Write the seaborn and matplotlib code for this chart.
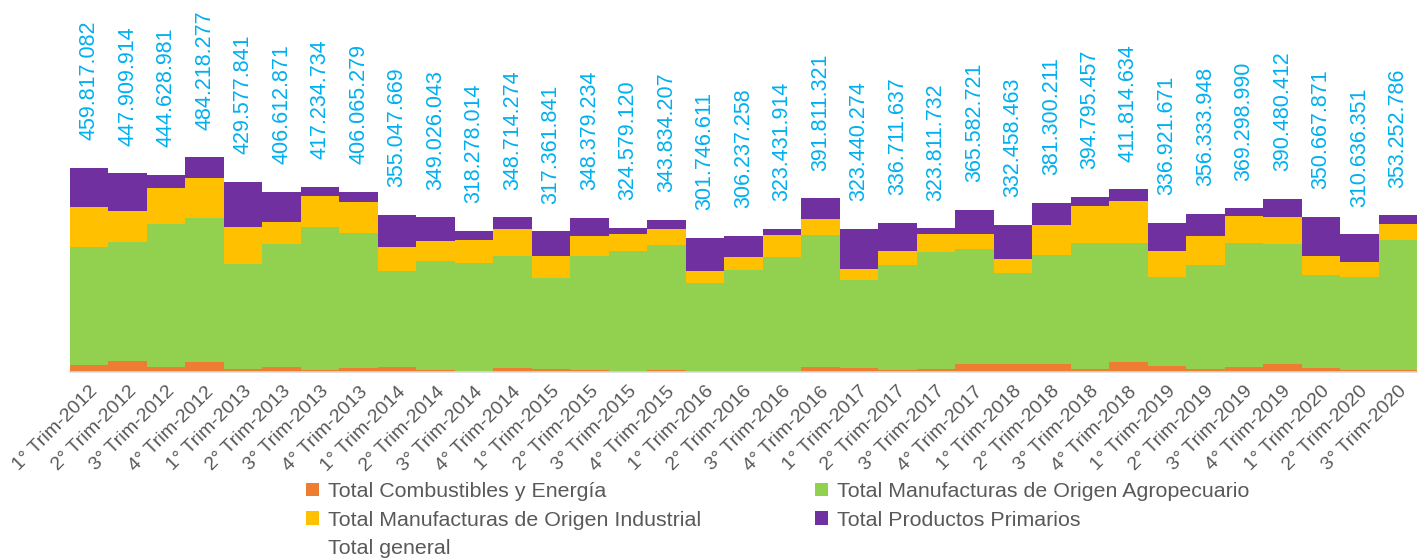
import numpy as np
import pandas as pd
import matplotlib
matplotlib.use("Agg")
import matplotlib.pyplot as plt
from matplotlib.patches import Patch
import seaborn as sns

# ---------------- data ----------------
categories = [
    "1° Trim-2012", "2° Trim-2012", "3° Trim-2012", "4° Trim-2012",
    "1° Trim-2013", "2° Trim-2013", "3° Trim-2013", "4° Trim-2013",
    "1° Trim-2014", "2° Trim-2014", "3° Trim-2014", "4° Trim-2014",
    "1° Trim-2015", "2° Trim-2015", "3° Trim-2015", "4° Trim-2015",
    "1° Trim-2016", "2° Trim-2016", "3° Trim-2016", "4° Trim-2016",
    "1° Trim-2017", "2° Trim-2017", "3° Trim-2017", "4° Trim-2017",
    "1° Trim-2018", "2° Trim-2018", "3° Trim-2018", "4° Trim-2018",
    "1° Trim-2019", "2° Trim-2019", "3° Trim-2019", "4° Trim-2019",
    "1° Trim-2020", "2° Trim-2020", "3° Trim-2020",
]

total_general = [
    459817082, 447909914, 444628981, 484218277,
    429577841, 406612871, 417234734, 406065279,
    355047669, 349026043, 318278014, 348714274,
    317361841, 348379234, 324579120, 343834207,
    301746611, 306237258, 323431914, 391811321,
    323440274, 336711637, 323811732, 365582721,
    332458463, 381300211, 394795457, 411814634,
    336921671, 356333948, 369298990, 390480412,
    350667871, 310636351, 353252786,
]

# segment values (millions)
combustibles = [15.8, 25.5, 12.0, 21.9, 6.8, 11.3, 4.5, 9.7,
                12.0, 4.5, 1.1, 8.3, 6.1, 4.5, 1.6, 3.8,
                2.9, 1.6, 1.6, 12.0, 9.7, 3.8, 6.1, 18.7,
                18.7, 18.7, 7.4, 23.2, 14.2, 6.8, 12.0, 18.7,
                9.7, 5.2, 5.2]
moa = [266.9, 268.5, 321.9, 324.9, 236.2, 278.2, 323.3, 303.2,
       215.2, 246.6, 244.1, 253.3, 206.0, 257.2, 272.1, 282.7,
       198.5, 228.5, 258.5, 297.1, 197.2, 236.9, 265.3, 258.1,
       203.9, 245.2, 284.3, 268.5, 200.8, 234.6, 279.7, 270.7,
       208.5, 209.8, 291.9]
moi = [90.2, 69.3, 81.9, 91.6, 83.5, 49.0, 69.3, 71.3,
       54.8, 45.1, 52.6, 60.2, 49.6, 45.8, 38.4, 36.1,
       27.1, 28.7, 49.0, 36.1, 26.2, 32.9, 39.3, 34.5,
       31.6, 67.0, 83.5, 94.8, 58.7, 64.7, 60.2, 60.9,
       43.5, 32.5, 36.8]
primarios = [86.9, 84.6, 28.8, 45.8, 103.1, 68.1, 20.1, 21.9,
             73.0, 52.8, 20.5, 26.9, 55.7, 40.9, 12.5, 21.2,
             73.2, 47.4, 14.3, 46.6, 90.3, 63.1, 13.1, 54.3,
             78.3, 50.4, 19.6, 25.3, 63.2, 50.2, 17.4, 40.2,
             89.0, 63.1, 19.4]

series_names = [
    "Total Combustibles y Energía",
    "Total Manufacturas de Origen Agropecuario",
    "Total Manufacturas de Origen Industrial",
    "Total Productos Primarios",
]
colors = ["#ED7D31", "#92D050", "#FFC000", "#7030A0"]

# ---------------- plot ----------------
sns.set_theme(style="white")
plt.rcParams["font.family"] = ["Liberation Sans", "DejaVu Sans"]

W, H = 1424, 558
fig = plt.figure(figsize=(W / 100, H / 100), dpi=100)
base_y = 372
ax = fig.add_axes([70 / W, 1 - base_y / H, (1417 - 70) / W, base_y / H])

df = pd.DataFrame({
    "cat": categories,
    "c1": combustibles, "c2": moa, "c3": moi, "c4": primarios,
})
layers = ["c1", "c2", "c3", "c4"]
cum = df[layers].cumsum(axis=1)

# draw from top layer down so lower layers overlay
for key, col in zip(reversed(layers), reversed(colors)):
    sns.barplot(data=pd.DataFrame({"cat": df["cat"], "v": cum[key]}),
                x="cat", y="v", order=categories, color=col, width=1.0,
                saturation=1, linewidth=0, ax=ax, errorbar=None)

px_per_unit = 0.4432
ax.set_ylim(0, base_y / px_per_unit)
ax.set_xlim(-0.5, len(categories) - 0.5)

for i, t in enumerate(total_general):
    lab = f"{t:,}".replace(",", ".")
    ax.annotate(lab, xy=(i, t / 1e6), xytext=(0, 20), textcoords="offset points",
                rotation=90, ha="center", va="bottom", color="#00B0F0",
                fontsize=15.5)

ax.set_xlabel("")
ax.set_ylabel("")
ax.set_yticks([])
for s in ["top", "left", "right"]:
    ax.spines[s].set_visible(False)
ax.spines["bottom"].set_color("#D9D9D9")
ax.spines["bottom"].set_linewidth(1.2)
ax.tick_params(axis="x", length=0, pad=8)
plt.setp(ax.get_xticklabels(), rotation=45, ha="right", rotation_mode="anchor",
         color="#595959", fontsize=14)

handles = [
    Patch(facecolor=colors[0], edgecolor="none"),
    Patch(facecolor=colors[2], edgecolor="none"),
    Patch(facecolor="none", edgecolor="none"),
    Patch(facecolor=colors[1], edgecolor="none"),
    Patch(facecolor=colors[3], edgecolor="none"),
]
labels = [series_names[0], series_names[2], "Total general",
          series_names[1], series_names[3]]
leg = fig.legend(handles, labels, ncol=2, loc="upper left",
                 bbox_to_anchor=(306 / W, 1 - 482 / H), frameon=False,
                 fontsize=15.4, handlelength=0.6, handleheight=0.6,
                 handletextpad=0.45, columnspacing=5.3, labelspacing=0.45,
                 borderpad=0, borderaxespad=0)
for txt in leg.get_texts():
    txt.set_color("#595959")

fig.savefig("out.png", dpi=100)
